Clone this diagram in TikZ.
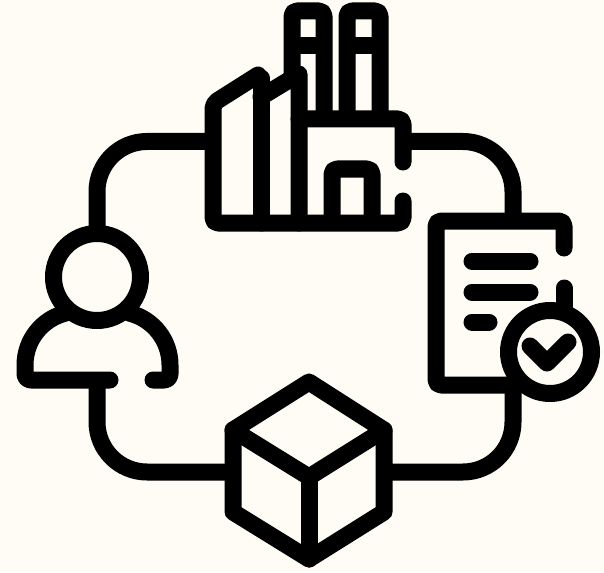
\documentclass[tikz,border=0pt]{standalone}
\definecolor{paper}{HTML}{FFFCF5}
\tikzset{
  glyph/.style={draw=black,line width=17pt,line cap=round,line join=round},
  flatglyph/.style={glyph,line cap=butt},
  softglyph/.style={glyph,rounded corners=5pt},
  ringlink/.style={glyph,line cap=butt,rounded corners=50pt}
}
\begin{document}
\begin{tikzpicture}[x=1pt,y=-1pt]
\useasboundingbox[fill=paper] (0,0) rectangle (604,572);
% connecting ring
\draw[ringlink] (213,141.5) -- (97,141.5) -- (97,240);
\draw[ringlink] (403,141.5) -- (513,141.5) -- (513,225);
\draw[ringlink] (513,380) -- (513,472) -- (384,472);
\draw[ringlink] (97,375) -- (97,472) -- (233,472);
% factory
\draw[softglyph] (403,162) -- (403,119) -- (299,119);
\draw[softglyph] (403,201) -- (403,223) -- (213,223) -- (213,103.5) -- (258,75);
\draw[glyph] (261,78) -- (261,223);
\draw[glyph] (261,97) -- (299,74) -- (299,223);
\draw[flatglyph,rounded corners=5pt] (292,80) -- (292,11) -- (324,11) -- (324,119);
\draw[flatglyph,rounded corners=5pt] (347,119) -- (347,11) -- (380,11) -- (380,119);
\draw[flatglyph] (292,46) -- (324,46);
\draw[flatglyph] (347,46) -- (380,46);
\draw[flatglyph,rounded corners=5pt] (332,223) -- (332,169) -- (372,169) -- (372,223);
% document
\draw[softglyph] (564,248) -- (564,221) -- (436,221) -- (436,385) -- (510,385);
\draw[flatglyph,line cap=round] (564,288) -- (564,312);
\draw[glyph] (472,261) -- (530,261);
\draw[glyph] (472,292) -- (530,292);
\draw[glyph] (472,322) -- (489,322);
\draw[glyph,fill=paper] (550,352) circle[radius=41.5];
\draw[glyph] (530,346) -- (547,363) -- (568,342);
% person
\draw[glyph] (97,277) circle[radius=43.5];
\draw[glyph] (110,380) -- (31,380) arc[start angle=90,end angle=180,radius=6]
  -- (25,365) arc[start angle=180,end angle=256,radius=53.5];
\draw[glyph] (153,380) -- (164,380) arc[start angle=90,end angle=0,radius=6]
  -- (170,365) arc[start angle=0,end angle=-76,radius=53.5];
% cube
\draw[glyph] (309,382) -- (384,430) -- (384,512) -- (309,559) -- (233,512) -- (233,430) -- cycle;
\draw[glyph] (233,430) -- (309,477) -- (384,430);
\draw[glyph] (309,477) -- (309,559);
\end{tikzpicture}
\end{document}
